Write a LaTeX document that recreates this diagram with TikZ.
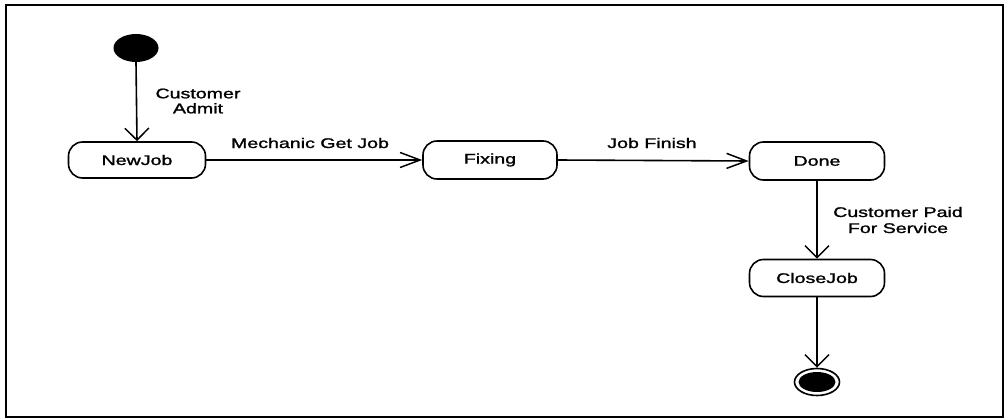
\documentclass[tikz,border=0pt]{standalone}
\usepackage{fontspec}
\usepackage{graphicx}
\setmainfont{Liberation Sans}
\newfontfamily\scanfont[FakeBold=1.2]{Liberation Sans}
\usetikzlibrary{shapes.geometric,arrows.meta}
\newcommand{\wtext}[1]{\scalebox{1.4}[1]{#1}}
\tikzset{
  statebox/.style={draw, line width=1.6pt, rounded corners=14pt, inner sep=0pt},
  lbl/.style={inner sep=0pt, align=center},
  conn/.style={line width=1.6pt},
  vtip/.style={-{Straight Barb[length=12pt,width=24pt,line width=1.5pt]}},
  htip/.style={-{Straight Barb[length=20pt,width=15pt,line width=1.5pt]}},
}
\begin{document}
\begin{tikzpicture}[x=1pt,y=-1pt,font=\scanfont\fontsize{14pt}{15pt}\selectfont]
\useasboundingbox (0,0) rectangle (1007,420);
\draw[line width=1.6pt] (6,5) rectangle (1003,417);

\node[ellipse, fill=black, minimum width=45pt, minimum height=28pt, inner sep=0pt] (start) at (136,48) {};
\node[statebox, minimum width=137pt, minimum height=36pt] (newjob) at (137,160) {\wtext{NewJob}};
\node[statebox, minimum width=134pt, minimum height=38pt] (fixing) at (490,160) {\wtext{Fixing}};
\node[statebox, minimum width=135pt, minimum height=38pt] (done) at (817,161) {\wtext{Done}};
\node[statebox, minimum width=135pt, minimum height=37pt] (closejob) at (817,278) {\wtext{CloseJob}};
\node[ellipse, draw, line width=1.6pt, minimum width=45pt, minimum height=27pt, inner sep=0pt] (end) at (817,382) {};
\node[ellipse, fill=black, minimum width=37pt, minimum height=20pt, inner sep=0pt] (endin) at (end.center) {};

\draw[conn, vtip] (start.south) -- (newjob.north);
\draw[conn, htip] (newjob.east) -- (fixing.west);
\draw[conn, htip] (fixing.east) -- (done.west);
\draw[conn, vtip] (done.south) -- (closejob.north);
\draw[conn, vtip] (closejob.south) -- (end.north);

\node[lbl] (l1) at (198,101) {\wtext{Customer}\\[0pt]\wtext{Admit}};
\node[lbl] (l2) at (310,143) {\wtext{Mechanic Get Job}};
\node[lbl] (l3) at (652,143) {\wtext{Job Finish}};
\node[lbl] (l4) at (898,220) {\wtext{Customer Paid}\\[1pt]\wtext{For Service}};
\end{tikzpicture}
\end{document}
